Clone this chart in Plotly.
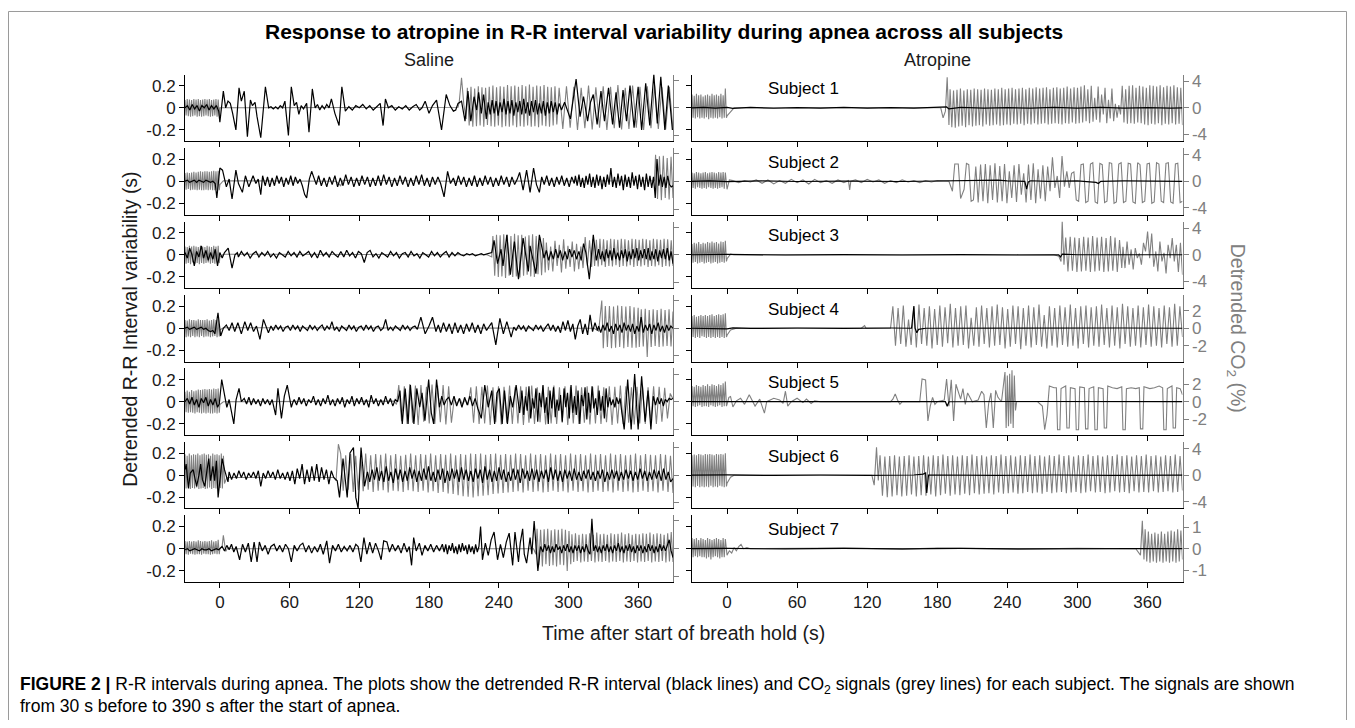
import numpy as np
import plotly.graph_objects as go

# ---------------- data (time in s, R-R in s, CO2 in %) ----------------
# segments: tuple (t0, t1, values) = values evenly spaced from t0 to t1; list = [[t, v], ...]
x_ticks = [0, 60, 120, 180, 240, 300, 360]
x_labels = ["0", "60", "120", "180", "240", "300", "360"]
rr_ticks = [-0.2, 0, 0.2]
rr_labels = ["-0.2", "0", "0.2"]
subjects = ["Subject 1", "Subject 2", "Subject 3", "Subject 4", "Subject 5", "Subject 6", "Subject 7"]
co2_ranges = [5.0, 5.0, 5.0, 3.8, 3.8, 5.0, 1.55]
co2_tick_steps = [4, 4, 4, 2, 2, 4, 1]

# ---- Saline ----
s1_sal_rr = [
    (-30, -1, [0.00, 0.02, -0.02, 0.03, -0.01, 0.02, -0.03, 0.02, 0.00, 0.03, -0.02, 0.02, -0.01, 0.02, -0.03]),
    [[0, -0.13], [3, 0.15], [5, 0.0], [7, 0.06], [9, 0.04], [11, -0.05], [13.8, -0.2], [16.5, 0.18], [18.5, 0.06], [21, 0.15],
     [23.7, -0.26], [26.3, 0.07], [28, 0.02], [30.3, 0.05], [32, -0.08], [35.2, -0.27], [39.2, 0.19], [42, 0.0], [44, 0.01],
     [46, -0.01], [48, 0.01], [50, -0.01], [52, 0.02], [54, 0.0], [56, 0.06], [59, -0.25], [61.5, 0.19], [64, 0.02], [66, 0.05],
     [68, -0.06], [70, 0.02], [72, -0.01], [74.7, 0.04], [76.7, -0.22], [79.6, 0.17], [82, 0.0], [84, 0.03], [86, -0.02],
     [88, 0.02], [90, -0.01], [92, 0.03], [94, 0.0], [96, 0.08], [99, -0.05], [102.6, -0.16], [105, 0.19], [108, -0.03],
     [111, 0.01], [114, -0.02], [117, 0.02], [120, 0.0], [123, 0.03], [126, -0.01], [129, 0.02], [132, -0.02], [135, 0.01],
     [138, 0.04], [140.5, -0.16], [142.5, 0.08], [145, 0.0], [148, 0.02], [151, -0.02], [154, 0.01], [157, -0.01], [160, 0.02],
     [163, -0.02], [166, 0.01], [169, 0.03], [172, -0.02], [174, 0.0], [176.7, 0.06], [180, -0.05], [183, 0.02], [186.5, 0.07],
     [190.8, -0.2], [194.8, 0.12], [198, 0.02], [201, -0.03], [203, -0.02], [205, 0.04], [208, 0.06], [211, -0.12],
     [213.5, 0.15], [216, -0.12], [218.8, 0.1], [221, -0.02], [222.7, 0.14], [225, -0.05], [227, 0.12], [229.3, -0.1]],
    (231, 292, [0.05, -0.06, 0.07, -0.05, 0.06, -0.07, 0.05, -0.04, 0.08, -0.06, 0.06, -0.05, 0.07, -0.07, 0.05, -0.04, 0.06,
                -0.06, 0.08, -0.05, 0.05, -0.07, 0.06, -0.04, 0.07, -0.06, 0.04, -0.05, 0.06, -0.07, 0.05, -0.05, 0.06, -0.04,
                0.05, -0.06, 0.04]),
    [[294, -0.02], [296.7, 0.05], [301.7, -0.1], [306.6, 0.26], [310, -0.08], [313, 0.1], [316.5, -0.12], [319, 0.05],
     [321.4, 0.12], [324.7, -0.15], [328, 0.15], [331, -0.12], [334.5, 0.18], [338, -0.15], [341, 0.14], [344, -0.18],
     [347, 0.16], [350, -0.12], [353, 0.2], [356.5, -0.18], [360, 0.19], [363, -0.2], [366.5, 0.22], [370, -0.16],
     [373.5, 0.3], [376.5, -0.14], [379.5, 0.28], [383, -0.2], [386, 0.2], [389.5, -0.2]],
]
s1_sal_co2 = [
    (-30, -0.5, [1.4, -1.4, 1.6, -1.5, 1.5, -1.6, 1.4, -1.5, 1.6, -1.4, 1.5, -1.6, 1.6, -1.5, 1.4, -1.6, 1.5, -1.5, 1.6, -1.4,
                 1.5, -1.5, 1.6, -1.6, 1.4, -1.5, 1.5, -1.4, 1.6, -1.6, 1.5, -1.5]),
    [[0, 0.0], [205, 0.1], [206, 1.0], [208, 5.4], [210, 0.5], [212, -2.0]],
    (213, 290, [3.6, -3.2, 3.8, -3.4, 3.5, -3.3, 3.9, -3.2, 3.7, -3.4, 3.6, -3.1, 3.8, -3.3, 4.0, -3.4, 3.7, -3.2, 3.9, -3.5,
                3.8, -3.3, 4.1, -3.4, 3.9, -3.2, 4.0, -3.5, 3.8, -3.3, 4.1, -3.4, 3.9, -3.2, 4.2, -3.4, 3.8, -3.3, 4.0, -3.5,
                3.9, -3.2, 4.1, -3.3, 3.8, -3.4, 3.7, -3.2, 3.9, -3.0]),
    (292, 390, [3.6, -3.8, 3.9, -3.6, 3.8, -4.0, 3.6, -3.7, 4.0, -3.9, 3.7, -3.6, 3.9, -4.0, 3.8, -3.7, 4.1, -3.9, 3.6, -3.8,
                4.0, -3.6, 3.8, -4.0, 3.9, -3.7, 4.0, -3.8, 3.7, -3.9, 3.8, -4.0]),
]

s2_sal_rr = [
    (-30, -4, [0.0, 0.01, -0.01, 0.0, 0.01, -0.01, 0.01, 0.0, -0.01, 0.01, 0.0, -0.01, 0.0, -0.02]),
    [[-2.6, -0.15], [0, 0.12], [2.3, 0.1], [5.6, -0.05], [8, 0.02], [10.5, -0.16], [13.8, 0.1], [16, -0.02], [19.4, -0.1],
     [22, 0.05], [25, -0.05], [28.6, 0.05], [31, -0.02], [33, 0.02], [35.2, -0.12], [36.8, 0.05], [39, -0.04], [41, 0.04],
     [43, -0.05], [45, 0.03], [47, -0.04], [49, 0.05], [51, -0.02], [53, 0.04], [55, -0.05], [57, 0.03], [59, -0.03],
     [61, 0.05], [63, -0.04], [65, 0.04], [67, -0.02], [69, 0.02], [71, -0.04], [73, -0.12], [74.7, -0.15], [77, 0.02],
     [79, 0.09], [81, 0.02], [83, -0.03]],
    (85, 190, [0.05, -0.04, 0.03, -0.05, 0.04, -0.03, 0.05, -0.05, 0.03, -0.04, 0.06, -0.03, 0.04, -0.05, 0.03, -0.04, 0.05,
               -0.03, 0.04, -0.05, 0.03, -0.04, 0.05, -0.04, 0.06, -0.03, 0.04, -0.05, 0.03, -0.04, 0.05, -0.03, 0.04, -0.05,
               0.03, -0.04, 0.05, -0.03, 0.06, -0.04, 0.03, -0.05, 0.04, -0.03, 0.04, -0.02]),
    [[193, -0.14], [196, 0.09], [198.5, -0.02], [201, 0.03]],
    (203, 256, [-0.04, 0.05, -0.03, 0.04, -0.05, 0.03, -0.04, 0.05, -0.05, 0.03, -0.04, 0.05, -0.03, 0.04, -0.05, 0.03, -0.04,
                0.05, -0.03, 0.04, -0.05, 0.04, -0.03, 0.02]),
    [[258, 0.08], [261, -0.08], [264, 0.1], [267, -0.1], [270, 0.12], [272.5, -0.03], [275, -0.1]],
    (277, 305, [0.04, -0.03, 0.05, -0.04, 0.03, -0.05, 0.04, -0.03, 0.05, -0.04, 0.03, -0.05, 0.04, -0.02]),
    (306, 390, [0.05, -0.04, 0.06, -0.05, 0.03, -0.06, 0.05, -0.03, 0.07, -0.05, 0.04, -0.06, 0.06, -0.04, 0.05, -0.07, 0.04,
                -0.05, 0.06, -0.03, 0.12, -0.05, 0.04, -0.06, 0.07, -0.04, 0.05, -0.08, 0.06, -0.05, 0.04, -0.06, 0.08, -0.04,
                0.05, -0.07, 0.06, -0.05, 0.04, -0.08, 0.07, -0.05, 0.05, -0.06, 0.04, -0.15, 0.2, -0.04, 0.06, -0.05, 0.04,
                -0.06, 0.05, -0.03, -0.05, -0.04]),
]
s2_sal_co2 = [
    (-30, -0.5, [1.5, -1.5, 1.6, -1.4, 1.5, -1.6, 1.6, -1.5, 1.7, -1.5, 1.6, -1.6, 1.7, -1.5, 1.8, -1.6, 1.7, -1.6, 1.8, -1.5,
                 1.8, -1.6, 1.7, -1.5, 1.8, -1.6, 1.9, -1.6, 1.8, -1.5, 1.9, -1.6]),
    [[0, -0.6], [3, 0.1], [100, 0.0], [104, -0.8], [106, 0.2], [200, 0.0], [374, 0.1]],
    (375, 390, [4.8, -3.2, 4.5, -3.4, 4.6, -3.0, 4.2, -3.3, 4.4, -3.0]),
]

s3_sal_rr = [
    [[-30, 0.02], [-28, -0.03], [-26, 0.06], [-24, 0.0], [-22, -0.1], [-20, 0.03], [-18, -0.02], [-16, 0.08], [-14, -0.03],
     [-12, 0.04], [-10, -0.05], [-8, 0.02], [-6, -0.04], [-4, 0.05], [-2, -0.1], [0, 0.02], [2, -0.03], [4, 0.02],
     [7.2, 0.06], [10.5, -0.12], [13, 0.0], [15, 0.02]],
    (16, 225, [-0.02, 0.03, -0.01, 0.02, -0.03, 0.01, 0.03, -0.02, 0.02, -0.01, 0.03, -0.02, 0.01, -0.03, 0.02, 0.0, -0.02,
               0.03, -0.01, 0.02, -0.02, 0.03, -0.01, 0.01, 0.03, -0.02, 0.02, -0.03, 0.04, -0.01, 0.02, -0.02, 0.03, 0.0,
               -0.02, 0.03, -0.02, 0.04, -0.01, 0.02, -0.03, 0.03, 0.01, -0.07, 0.02, 0.04, -0.02, 0.01, -0.03, 0.02, 0.0,
               -0.02, 0.03, -0.01, 0.02, -0.03, 0.01, 0.02, -0.02, 0.03, -0.01, 0.01, -0.03, 0.02, 0.0, -0.02, 0.03, -0.01,
               0.02, -0.02, 0.01, 0.03, -0.02, 0.02, -0.01, 0.02, 0.0, -0.01, 0.01, 0.0, 0.01, -0.01, 0.0, 0.01]),
    [[227, 0.0], [231, 0.01], [234, 0.02], [236, 0.13], [239, -0.08], [242, 0.05], [243.7, -0.1], [247, 0.18], [250, -0.18],
     [253.5, 0.12], [257, -0.22], [261, 0.15], [265.5, -0.15], [267, 0.08], [272, -0.17], [275, 0.18], [279, -0.03],
     [281, 0.04], [283, -0.05], [285, 0.03], [287, -0.04], [289, 0.05], [291, -0.03], [293, 0.04], [295, -0.05], [297, 0.03],
     [299, -0.04], [301, 0.05], [303, -0.02], [305, 0.04], [307, -0.04], [309, 0.03], [311, -0.05], [313, 0.1], [315, 0.02],
     [318, -0.22], [321.4, 0.18], [324, -0.05]],
    (326, 390, [0.05, -0.04, 0.03, -0.06, 0.05, -0.03, 0.04, -0.05, 0.06, -0.04, 0.02, -0.05, 0.04, -0.03, 0.05, -0.06, 0.03,
                -0.04, 0.05, -0.03, 0.06, -0.05, 0.04, -0.03, 0.05, -0.04, 0.06, -0.05, 0.03, -0.04, 0.05, -0.06, 0.04, -0.03,
                0.05, -0.04, 0.06, -0.05, 0.03, -0.08]),
]
s3_sal_co2 = [
    (-30, -0.5, [1.5, -1.6, 1.4, -1.5, 1.6, -1.7, 1.5, -1.4, 1.6, -1.6, 1.5, -1.5, 1.4, -1.7, 1.6, -1.5, 1.5, -1.6, 1.4, -1.5,
                 1.6, -1.4, 1.5, -1.6, 1.4, -1.5, 1.6, -1.6, 1.5, -1.4, 1.6, -1.5]),
    [[0, -0.4], [3, 0.1], [230, 0.0], [234, -0.4]],
    (235, 280, [3.4, -3.8, 3.6, -4.0, 3.5, -3.9, 3.7, -4.2, 3.6, -3.8, 3.4, -4.0, 3.8, -3.9, 3.5, -4.1, 3.6, -3.8, 3.3, -3.6,
                3.5, -3.9, 3.7, -4.0, 3.4, -3.5, 3.2, -3.7, 3.0, -3.2]),
    (281, 320, [2.2, -2.8, 1.5, -3.0, 2.5, -2.0, 1.8, -3.2, 2.8, -2.5, 1.6, -2.2, 2.4, -3.0, 2.0, -2.6, 1.5, -2.4, 3.2, -2.0, 2.6, -2.2]),
    (321, 390, [2.8, -2.0, 2.7, -2.1, 2.9, -1.9, 2.8, -2.2, 2.6, -2.0, 2.9, -2.1, 2.8, -1.9, 2.7, -2.2, 2.9, -2.0, 2.8, -2.1,
                2.6, -1.9, 2.9, -2.2, 2.8, -2.0, 2.7, -2.1, 2.9, -1.9, 2.8, -2.2, 2.6, -2.0, 2.9, -2.1, 2.8, -1.9, 2.7, -2.2,
                2.9, -2.0, 2.8, -2.1, 2.6, -2.0]),
]

s4_sal_rr = [
    (-30, -6, [0.0, 0.01, -0.01, 0.0, 0.01, -0.01, 0.0, 0.01, -0.01, 0.0, -0.02, -0.03, -0.02]),
    [[-4.3, -0.05], [-1.6, 0.14], [0.7, -0.07], [3, 0.0], [5.6, 0.03], [8, -0.02], [10.5, 0.05], [12.8, -0.03], [15.5, 0.05],
     [18.5, -0.05], [21.5, 0.06], [24, -0.02], [26.5, 0.05], [29, -0.03], [31.5, 0.02], [34.5, -0.1], [37.5, 0.08],
     [41.8, -0.04], [44, 0.02]],
    (46, 170, [-0.02, 0.03, -0.01, 0.02, -0.03, 0.01, 0.02, -0.02, 0.03, -0.01, 0.02, -0.03, 0.02, 0.0, -0.02, 0.03, -0.01,
               0.02, -0.02, 0.01, 0.03, -0.02, 0.02, -0.01, 0.06, -0.02, 0.01, -0.03, 0.02, 0.0, -0.02, 0.03, -0.01, 0.02,
               -0.03, 0.01, 0.02, -0.02, 0.03, -0.01, 0.02, -0.03, 0.01, 0.02, -0.02, 0.0, 0.08, -0.02, 0.01, -0.02, 0.02, 0.0,
               -0.02, 0.03, -0.01, 0.02, -0.02, 0.01, 0.02, -0.01]),
    [[173, 0.1], [176.7, -0.05], [180, 0.02], [183, 0.1], [186, -0.03], [188, 0.03]],
    (190, 232, [-0.04, 0.05, -0.03, 0.04, -0.05, 0.05, -0.04, 0.03, -0.05, 0.04, -0.03, 0.05, -0.04, 0.03, -0.05, 0.04, -0.02, 0.02]),
    [[234, 0.05], [237.5, -0.15], [241, 0.09], [244, -0.05], [247, 0.06], [250.7, -0.08], [253, 0.01]],
    (255, 325, [-0.02, 0.03, -0.01, 0.02, -0.03, 0.02, 0.0, -0.02, 0.03, -0.01, 0.02, -0.03, 0.01, 0.04, -0.02, 0.03, -0.03,
                0.02, -0.04, 0.06, -0.02, 0.07, -0.03, 0.04, -0.1, 0.02, 0.08, -0.05, 0.04, -0.06, 0.12, -0.03, 0.05, -0.02]),
    (326, 390, [0.02, -0.04, 0.03, -0.02, 0.05, -0.03, 0.02, -0.05, 0.04, -0.02, 0.03, -0.04, 0.05, -0.02, 0.03, -0.03, 0.04,
                -0.05, 0.02, -0.03, 0.1, -0.04, 0.03, -0.02, 0.04, -0.05, 0.03, -0.02, 0.05, -0.03, 0.02, -0.04, 0.03, -0.02,
                0.02, 0.0]),
]
s4_sal_co2 = [
    (-30, -0.5, [1.5, -1.6, 1.4, -1.5, 1.6, -1.6, 1.5, -1.4, 1.5, -1.6, 1.4, -1.5, 1.6, -1.6, 1.5, -1.4, 1.5, -1.6, 1.5, -1.5,
                 1.6, -1.5, 1.4, -1.6, 1.5, -1.5, 1.6, -1.4, 1.5, -1.6, 1.6, -1.5]),
    [[0, -0.3], [3, 0.1], [322, 0.0], [326, -0.5], [328.7, 5.0]],
    (330, 360, [-3.6, 4.0, -3.4, 4.0, -3.6, 3.9, -3.5, 4.1, -3.4, 4.0, -3.6, 3.9, -3.4, 4.0, -3.5, 3.8, -3.5, 3.7]),
    (361, 390, [-3.4, 3.4, -3.3, 3.5, -5.2, 3.3, -3.4, 3.4, -3.2, 3.3, -3.4, 3.5, -3.3, 3.3, -3.2, 3.4, -3.3, 3.0]),
]

s5_sal_rr = [
    [[-30, 0.0], [-28, 0.03], [-26, -0.02], [-24, 0.04], [-22, -0.03], [-20, 0.02], [-18, -0.05], [-16, 0.03], [-14, -0.01],
     [-12, 0.04], [-10, -0.04], [-8, 0.02], [-6, -0.03], [-4, 0.03], [-2, -0.05], [-0.5, -0.02], [1.6, 0.2], [4, 0.05],
     [6, -0.05], [8, 0.02], [10.5, -0.12], [12, -0.2], [14, 0.02], [16.5, 0.12], [18.5, 0.0], [21, 0.03], [23, -0.02],
     [25, 0.04], [27, -0.03], [29, 0.03], [31, -0.02], [33, 0.02], [35, -0.04], [37, 0.03], [39, -0.02], [41, 0.02],
     [43, -0.03], [45, 0.02], [48, -0.12], [50, 0.12], [53, -0.15], [55.5, 0.05], [58, 0.15], [61.5, -0.05], [63, 0.0]],
    (64, 153, [0.02, -0.03, 0.04, -0.02, 0.03, -0.04, 0.02, -0.01, 0.05, -0.03, 0.02, -0.04, 0.03, -0.02, 0.06, -0.03, 0.02,
               -0.04, 0.03, -0.02, 0.04, -0.05, 0.02, -0.02, 0.05, -0.04, 0.03, -0.02, 0.04, -0.03, 0.02, -0.05, 0.06, -0.02,
               0.03, -0.04, 0.02, -0.03, 0.05, -0.02, 0.03, -0.04, 0.02, 0.0]),
    [[155, 0.1], [157, -0.2], [159.5, 0.12], [162, -0.2], [164, 0.15], [167, -0.2], [169.5, 0.12], [172, -0.05], [174, 0.08],
     [176.5, -0.17], [179.7, 0.2], [182, -0.1], [184, -0.2], [186.5, 0.2], [189, -0.05], [191, 0.05], [193, -0.03], [195, 0.02]],
    (197, 222, [0.04, -0.03, 0.05, -0.04, 0.03, -0.05, 0.04, -0.03, 0.05, -0.04, 0.03, -0.06]),
    [[225, -0.15], [228, 0.15], [231, -0.05], [234, 0.1], [236.5, -0.2], [238.5, 0.08], [240.5, 0.12], [243, -0.2], [245, 0.1],
     [247.5, -0.2], [250, 0.05], [252, -0.05], [255, 0.15], [258, -0.1]],
    (260, 346, [0.1, -0.12, 0.05, -0.08, 0.14, -0.15, 0.03, -0.06, 0.12, -0.18, 0.08, -0.05, 0.15, -0.1, 0.04, -0.2, 0.1,
                -0.06, 0.13, -0.14, 0.02, -0.08, 0.06, -0.18, 0.12, -0.05, 0.08, -0.15, 0.15, -0.1, 0.05, -0.12, 0.1, -0.2,
                0.06, -0.04, 0.13, -0.16, 0.08, -0.1, 0.14, -0.06, 0.03, -0.12, 0.1, -0.08, 0.05, -0.15, 0.12, -0.05, 0.04,
                -0.03, 0.02, -0.05, 0.04, -0.02, 0.03, -0.1]),
    [[348, -0.25], [351, 0.2], [354, -0.25], [357, 0.25], [360, -0.25], [363, 0.23], [366, -0.18], [368.5, 0.1], [371, -0.25],
     [373, 0.05]],
    (375, 390, [-0.03, 0.04, -0.02, 0.03, -0.04, 0.02, 0.0, 0.03, 0.02, 0.03]),
]
s5_sal_co2 = [
    (-30, -0.5, [1.8, -1.9, 2.0, -2.0, 1.8, -1.9, 2.1, -2.0, 1.9, -2.1, 2.0, -1.9, 2.2, -2.0, 2.1, -2.1, 2.2, -2.0, 2.3, -2.1,
                 2.2, -2.0, 2.3, -2.1, 2.2, -2.1, 2.4, -2.0, 2.3, -2.1, 2.4, -2.0]),
    [[0, -0.5], [3, 0.0], [150, 0.1], [152, -0.5]],
    (154, 390, [3.0, -3.5, 2.8, -4.0, 3.2, -3.8, 2.9, -4.2, 3.0, -3.6, 2.7, -3.9, 3.1, -4.0, 2.9, -3.7, 3.0, -4.1, 2.8, -3.8,
                0.5, -0.4, 0.6, -0.5, 0.4, -0.6, 2.6, -3.8, 2.8, -4.0, 2.7, -3.9, 2.9, -4.2, 2.6, -3.7, 2.8, -4.1, 2.7, -3.8,
                2.9, -4.0, 2.6, -3.9, 2.8, -4.2, 2.7, -3.8, 2.9, -4.0, 2.6, -3.7, 2.8, -4.1, 2.7, -3.9, 2.9, -4.0, 2.6, -3.8,
                2.8, -4.2, 2.7, -3.9, 2.9, -4.0, 2.6, -3.8, 2.8, -4.1, 2.7, -3.9, 2.9, -4.0, 2.6, -3.7, 2.8, -4.2, 2.7, -3.9,
                2.9, -4.0, 2.8, -3.8, 2.6, -4.1, 2.7, -3.9, 2.9, -4.0, 2.6, -3.8, 2.8, -4.0, 2.7, -3.6, 2.5, -3.0, 1.5, 0.5]),
]

s6_sal_rr = [
    [[-30, 0.05], [-29, 0.1], [-27, -0.12], [-25.5, 0.02], [-23, 0.05], [-20, -0.1], [-18, 0.0], [-16.5, 0.1], [-15, -0.04],
     [-13, -0.1], [-11, 0.05], [-9.5, 0.15], [-8, -0.05], [-6, 0.08], [-4.5, -0.05], [-3, 0.13], [-1.5, -0.2], [0.5, 0.02],
     [2, 0.15], [4, 0.05], [5.6, 0.0], [7, -0.06]],
    (8, 98, [0.03, -0.04, 0.02, -0.03, 0.04, -0.02, 0.03, -0.04, 0.02, -0.02, 0.03, -0.03, 0.04, -0.1, 0.02, -0.03, 0.04,
             -0.02, 0.03, -0.04, 0.05, -0.03, 0.02, -0.04, 0.03, -0.05, 0.04, -0.08, 0.06, -0.03, 0.1, -0.08, 0.05, -0.06,
             0.08, -0.05, 0.1, -0.06, 0.07, -0.04, 0.05, -0.08, 0.04, -0.02]),
    [[101, -0.05], [103, -0.2], [106, 0.15], [109.6, -0.2], [112, 0.2], [115, 0.25], [117, -0.2], [119, -0.3], [121.5, 0.25],
     [124.5, -0.1], [127, 0.03]],
    (129, 390, [-0.06, 0.05, -0.04, 0.07, -0.05, 0.04, -0.06, 0.08, -0.05, 0.03, -0.07, 0.06, -0.04, 0.05, -0.06, 0.04, -0.05,
                0.07, -0.03, 0.05, -0.06, 0.04, -0.05, 0.06, -0.04, 0.08, -0.05, 0.03, -0.06, 0.05, -0.04, 0.06, -0.07, 0.04,
                -0.05, 0.06, -0.03, 0.05, -0.06, 0.07, -0.04, 0.05, -0.05, 0.04, -0.06, 0.06, -0.03, 0.05, -0.07, 0.08, -0.04,
                0.05, -0.06, 0.04, -0.05, 0.07, -0.04, 0.05, -0.06, 0.03, -0.05, 0.06, -0.04, 0.05, -0.07, 0.06, -0.03, 0.04,
                -0.05, 0.06, -0.04, 0.05, -0.06, 0.04, -0.03, 0.05, -0.06, 0.07, -0.04, 0.05, -0.05, 0.04, -0.06, 0.05, -0.03,
                0.04, -0.05, 0.06, -0.04, 0.03, -0.05, 0.04, -0.03, 0.05, -0.04, 0.03, -0.05, 0.04, -0.03, 0.05, -0.06, 0.03,
                -0.04, 0.05, -0.03, 0.04, -0.05, 0.03, -0.04, 0.05, -0.03, 0.04, -0.05, 0.03, -0.04, 0.06, -0.03, 0.04, -0.05,
                0.03, -0.04, 0.05, -0.03, 0.04, -0.05, 0.06, -0.04, 0.03, -0.06, -0.03]),
]
s6_sal_co2 = [
    (-30, 4, [3.8, -2.4, 3.5, -2.2, 3.9, -2.5, 3.6, -2.3, 3.8, -2.4, 3.7, -2.2, 3.9, -2.5, 3.6, -2.4, 3.8, -2.3, 3.9, -2.5,
              3.7, -2.4, 3.8, -2.2, 3.5, -2.5, 3.9, -2.3, 3.7, -2.4, 3.8, -2.5, 3.6, -2.3, 3.9, -2.4, 3.5, -1.5]),
    [[6, -0.4], [98, -0.4], [100, -1.0], [102, 5.6]],
    (104, 390, [3.9, -2.8, 3.6, -2.6, 3.8, -3.0, 3.5, -2.7, 3.7, -2.9, 3.9, -2.6, 3.6, -3.0, 3.8, -2.8, 3.7, -2.7, 3.9, -3.1,
                3.6, -2.8, 3.8, -2.9, 3.5, -3.0, 3.7, -2.7, 3.9, -2.9, 3.6, -3.0, 3.8, -2.8, 3.7, -3.1, 3.9, -2.9, 3.6, -3.2,
                3.8, -3.0, 3.7, -3.3, 3.9, -3.4, 3.6, -3.6, 3.8, -3.8, 3.7, -3.9,
                3.9, -4.0, 3.8, -3.8, 3.9, -3.7, 3.7, -3.6, 3.8, -3.4, 3.9, -3.3, 3.7, -3.2, 3.8, -3.1,
                3.7, -3.0, 3.9, -2.9, 3.8, -3.1, 3.6, -2.8, 3.9, -3.0, 3.7, -2.9, 3.8, -3.1, 3.6, -3.0, 3.9, -2.8, 3.7, -3.0,
                3.8, -2.9, 3.6, -3.1, 3.9, -2.8, 3.7, -3.0, 3.8, -2.9, 3.6, -3.1, 3.9, -3.0, 3.7, -2.8, 3.8, -3.0, 3.6, -2.9,
                3.9, -3.1, 3.7, -2.8, 3.8, -3.0, 3.6, -2.9, 3.7, -3.1, 3.9, -3.0, 3.6, -2.8, 3.8, -3.0, 3.7, -2.9, 3.6, -3.1,
                3.8, -2.8, 3.7, -3.0, 3.5, -3.2]),
]

s7_sal_rr = [
    (-30, -1, [-0.01, 0.0, -0.02, -0.01, 0.0, -0.01, -0.02, 0.0, -0.01, -0.01, 0.0, -0.02, -0.01, 0.0, -0.01]),
    [[0, 0.0], [2, 0.02], [4, -0.02], [6, 0.03], [8, -0.01], [10, 0.04], [12, -0.03], [14, 0.02], [17, -0.1], [19.5, 0.04],
     [22, -0.03], [24.5, 0.05], [27, -0.12], [29.5, 0.06], [32, -0.12], [34, 0.06], [36.5, -0.02], [39, 0.03], [41.5, -0.05],
     [44, 0.02], [46.7, 0.04], [49, -0.02], [51.5, 0.03], [54, -0.03], [56.5, 0.04], [59, 0.0], [61.5, -0.12], [64, 0.03],
     [66.5, -0.02], [69, 0.03], [71.4, 0.05], [74, -0.03], [76.5, 0.03], [79, -0.04], [81.5, 0.02], [84, -0.03], [86.5, 0.04],
     [89, -0.05], [92, 0.07], [94.4, -0.13], [97, 0.03], [99.5, -0.02], [102, 0.04], [104.5, -0.03], [107, 0.02],
     [109.5, -0.02], [112, 0.03], [114.5, -0.03], [117, 0.04], [119, 0.02], [121.4, -0.12], [124, 0.1], [126.5, -0.05],
     [129, 0.06], [131.5, -0.04], [134, 0.05], [136.5, -0.02], [138.8, -0.1], [141, 0.07], [143.8, 0.06], [146, -0.03],
     [148.5, 0.04], [151, -0.02], [153.5, 0.03], [156, -0.04], [158.5, 0.05], [161, -0.03], [163, 0.02], [165, -0.15],
     [166.8, 0.1], [169, -0.02], [171.7, 0.05], [174, -0.06], [176.5, 0.03], [179, -0.02], [181.5, 0.04], [184, -0.03],
     [186.5, 0.03], [189, -0.02], [191.5, 0.04]],
    (193, 223, [-0.03, 0.04, -0.05, 0.03, -0.02, 0.05, -0.04, 0.02, -0.05, 0.04, -0.03, 0.05, -0.02, 0.03, -0.05, 0.04, -0.03,
                0.02, -0.05, 0.04, -0.03, 0.02]),
    [[224.4, 0.2], [226, -0.1], [228.5, 0.05], [231, -0.06], [233.5, 0.08], [236, 0.15], [239, -0.1], [241.5, 0.04],
     [244, -0.08], [246.5, 0.06], [249, 0.14], [252, -0.15], [254, 0.15], [257, -0.12], [258.5, 0.05], [260.6, 0.18],
     [262, -0.05], [264, -0.13], [267, 0.1], [268.5, -0.05], [270.5, 0.25], [272, 0.0], [273.7, -0.2], [276, 0.02]],
    (278, 390, [-0.03, 0.04, -0.02, 0.03, -0.04, 0.02, -0.03, 0.04, -0.01, 0.02, -0.04, 0.03, -0.02, 0.04, -0.03, 0.02, -0.04,
                0.03, -0.02, 0.03, -0.04, 0.02, -0.03, 0.04, -0.02, -0.05, 0.27, -0.02, 0.03, -0.03, 0.02, -0.04, 0.03, -0.02,
                0.04, -0.03, 0.02, -0.04, 0.03, -0.02, 0.05, -0.03, 0.02, -0.04, 0.03, -0.02, 0.04, -0.03, 0.02, -0.04, 0.03,
                -0.02, 0.03, -0.04, 0.02, -0.03, 0.04, -0.02, 0.03, -0.04, 0.02, -0.03, 0.04, -0.02, 0.03, -0.02, 0.04, 0.08,
                -0.02, -0.08]),
]
s7_sal_co2 = [
    (-30, -0.5, [1.4, -1.0, 1.3, -1.1, 1.4, -0.9, 1.3, -1.0, 1.4, -1.1, 1.3, -1.0, 1.5, -1.0, 1.4, -1.1, 1.3, -0.9, 1.4, -1.0,
                 1.3, -1.0, 1.4, -1.1, 1.5, -1.0, 1.3, -0.9, 1.4, -1.0, 1.6, -1.0]),
    [[0, 0.0], [2, 0.5], [3, 2.4], [5, -0.5], [7, 0.2], [10, 0.0], [270, 0.0], [272, -1.0]],
    (273, 302, [3.6, -3.0, 3.4, -3.2, 3.5, -2.8, 3.6, -3.1, 3.3, -3.0, 3.5, -3.2, 3.4, -2.9, 3.6, -3.0, 3.4, -4.0, 3.2, -2.8]),
    (303, 390, [2.6, -2.4, 2.8, -2.2, 2.5, -2.5, 2.7, -2.3, 2.6, -2.4, 2.8, -2.2, 2.5, -2.5, 2.9, -2.3, 2.6, -2.4, 2.7, -2.2,
                2.5, -2.5, 2.8, -2.3, 2.6, -2.4, 2.7, -2.2, 2.9, -2.5, 2.6, -2.3, 2.8, -2.4, 2.5, -2.2, 2.7, -2.5, 2.6, -2.3,
                2.8, -2.4, 2.7, -2.2, 2.9, -2.5, 2.6, -2.3, 2.8, -2.4, 2.7, -2.2, 2.5, -2.5, 2.8, -2.3, 3.0, -2.4]),
]

# ---- Atropine ----
s1_atr_rr = [
    [[-30, 0.0], [-20, 0.004], [-10, -0.003], [0, 0.003], [5, -0.005], [20, 0.003], [40, -0.004], [60, 0.002], [80, -0.002],
     [100, 0.003], [120, -0.002], [140, 0.002], [160, -0.003], [180, 0.003], [188, 0.008], [190, -0.01], [200, 0.004],
     [220, -0.003], [240, 0.002], [260, -0.003], [280, 0.003], [300, -0.002], [320, 0.003], [340, -0.003], [360, 0.002],
     [380, -0.002], [390, 0.0]],
]
s1_atr_co2 = [
    (-30, -0.5, [2.0, -1.5, 1.8, -1.6, 2.1, -1.4, 1.9, -1.6, 2.0, -1.5, 1.7, -1.6, 1.9, -1.4, 2.0, -1.7, 1.8, -1.5, 2.1, -1.6,
                 1.9, -1.5, 2.0, -1.6, 1.8, -1.4, 2.1, -1.6, 1.9, -1.5, 2.9, -1.5]),
    [[0, -1.2], [3, -0.6], [6, 0.0], [183, 0.0], [185, -1.5], [187, -0.5], [188.5, 4.6], [190, -2.6]],
    (191, 390, [2.8, -2.9, 2.6, -3.0, 2.7, -2.8, 2.9, -2.7, 2.6, -2.9, 2.8, -2.6, 2.7, -2.8, 2.9, -2.7, 2.8, -2.6, 2.7, -2.8,
                2.9, -2.5, 2.8, -2.7, 2.7, -2.6, 2.9, -2.5, 2.8, -2.7, 3.0, -2.6, 2.8, -2.5, 2.9, -2.6, 3.0, -2.4, 2.8, -2.5,
                2.9, -2.4, 3.0, -2.6, 2.8, -2.4, 3.0, -2.5, 2.9, -2.3, 3.1, -2.5, 2.9, -2.4, 3.0, -2.3, 3.1, -2.5, 2.8, -2.4,
                3.0, -2.3, 3.1, -2.4, 2.9, -2.5, 3.0, -2.3, 3.2, -2.4, 2.9, -2.2, 3.1, -2.4, 3.0, -2.3, 3.2, -2.2,
                3.4, -2.0, 2.8, -2.3, 3.3, -2.1, 1.5, -1.8, 3.2, -2.2, 2.0, -1.0, 3.0, -2.3, 1.2, -1.6, 2.9, -2.0, 0.6, -1.5,
                0.4, -1.0, 3.3, -2.2, 2.8, -2.4, 3.3, -2.3, 3.4, -2.4, 3.0, -2.2, 3.3, -2.3, 3.2, -2.5, 3.0, -2.6,
                3.4, -2.4, 3.3, -2.5, 3.2, -2.3, 3.4, -2.6, 3.1, -2.4, 3.3, -2.5, 3.2, -2.3, 3.4, -2.5, 3.1, -2.4, 3.0, -2.6]),
]

s2_atr_rr = [
    [[-30, 0.0], [-15, 0.003], [0, -0.003], [30, 0.003], [60, -0.002], [100, 0.002], [150, -0.002], [190, 0.003],
     [230, 0.006], [232, 0.01], [240, 0.003], [255, 0.0], [256.5, -0.07], [258, -0.005], [260, 0.005], [275, 0.0],
     [300, 0.003], [316, -0.01], [318, -0.02], [320, 0.0], [340, 0.003], [370, -0.002], [390, 0.0]],
]
s2_atr_co2 = [
    (-30, -0.5, [1.3, -1.0, 1.2, -1.1, 1.4, -0.9, 1.3, -1.0, 1.2, -1.1, 1.3, -1.0, 1.4, -1.1, 1.2, -0.9, 1.3, -1.0, 1.4, -1.1,
                 1.3, -1.0, 1.2, -1.1, 1.4, -1.0, 1.3, -0.9, 1.4, -1.1, 1.3, -1.0]),
    [[0, -1.2], [2, 0.2], [5, 0.1], [10, -0.2], [15, 0.1], [20, -0.1], [25, 0.2], [30, -0.3], [35, 0.2], [40, -0.4], [45, 0.1],
     [50, -0.3], [55, 0.3], [60, -0.2], [65, 0.2], [70, -0.4], [75, 0.3], [80, -0.2], [85, 0.1], [90, -0.3], [95, 0.2],
     [100, -0.2], [104, 0.1], [105, -1.3], [106, 0.0], [110, 0.2], [115, -0.2], [120, 0.3], [125, -0.1], [130, 0.2],
     [135, -0.3], [140, 0.1], [145, -0.2], [150, 0.2], [155, -0.1], [160, 0.1], [165, -0.2], [170, 0.1], [175, -0.1],
     [180, 0.1], [185, 0.0], [190, 0.0], [193, -1.5], [195, 2.6], [198, 2.6], [200, -2.6], [203, -1.2], [205, 2.7],
     [207, 2.5], [209, -3.0], [211, -2.8]],
    (213, 293, [2.2, -3.2, 2.5, -3.0, 2.6, -3.3, 2.4, -2.8, 2.7, -3.2, 2.3, -3.0, 2.6, -3.3, 1.5, -2.5, 2.4, -3.1, 2.6, -2.0,
                1.2, -3.2, 2.5, -2.8, 2.7, -3.3, 1.8, -2.6, 2.4, -3.0, 2.2, -1.5, 3.6, -1.0, 0.8, -2.5, 3.8, -0.8, 1.5, -1.0]),
    (295, 390, [1.2, 1.4, -2.8, -3.0, 2.5, 2.6, -3.2, -3.0, 2.6, 2.8, -3.1, -3.3, 2.7, 2.5, -3.2, -3.0, 2.8, 2.7, -3.3, -3.1,
                2.6, 2.8, -3.2, -3.0, 2.7, 2.6, -3.1, -3.3, 2.8, 2.5, -3.2, -3.0, 2.6, 2.7, -3.3, -3.1, 2.8, 2.6, -3.0, -3.2,
                2.7, 2.8, -3.1, -3.3, 2.6, 2.7, -3.2, -3.0]),
]

s3_atr_rr = [
    [[-30, 0.0], [0, 0.003], [50, -0.002], [100, 0.002], [150, -0.002], [200, 0.002], [250, -0.002], [284, 0.0],
     [285.5, -0.02], [287, 0.005], [300, 0.0], [340, 0.003], [390, 0.0]],
]
s3_atr_co2 = [
    (-30, -0.5, [1.6, -1.2, 1.8, -1.1, 1.7, -1.3, 1.9, -1.2, 1.6, -1.1, 1.8, -1.3, 1.7, -1.2, 1.9, -1.1, 1.8, -1.3, 2.0, -1.2,
                 1.8, -1.1, 1.9, -1.3, 1.7, -1.2, 2.0, -1.1, 1.9, -1.2, 2.1, -1.0]),
    [[0, -0.6], [3, 0.1], [6, 0.0], [280, 0.0], [284, -0.2], [286, -1.0], [287, 5.0], [288.5, -1.5]],
    (290, 338, [2.6, -2.5, 2.7, -2.4, 2.6, -2.6, 2.5, -2.5, 2.7, -2.4, 2.6, -2.6, 2.8, -2.5, 2.6, -2.4, 2.7, -2.6, 2.5, -2.5,
                2.8, -2.4, 2.6, -2.6, 2.2, -2.0]),
    (339, 390, [1.2, -2.0, 2.0, -1.5, 0.8, -2.2, 1.0, -0.5, 0.2, -1.5, 1.8, 0.5, 3.5, -0.5, 3.2, -1.8, 0.5, -2.5, 2.0, -1.0,
                0.3, -2.8, 1.5, -0.5, 2.5, -1.0, 1.5, -2.6, 1.8, -3.0]),
]

s4_atr_rr = [
    [[-30, 0.0], [-2, 0.0], [0, -0.005], [5, 0.003], [20, -0.002], [60, 0.002], [100, -0.002], [140, 0.002], [158, 0.0],
     [160, 0.2], [161, 0.0], [162.5, -0.04], [164, -0.01], [170, 0.0], [220, 0.002], [280, -0.002], [340, 0.002], [390, 0.0]],
]
s4_atr_co2 = [
    (-30, -0.5, [1.4, -1.0, 1.5, -1.1, 1.3, -1.0, 1.4, -1.1, 1.5, -0.9, 1.4, -1.0, 1.5, -1.1, 1.4, -1.0, 1.5, -1.1, 1.6, -1.0,
                 1.4, -1.1, 1.5, -1.0, 1.6, -1.1, 1.5, -1.0, 1.6, -1.1, 1.7, -1.0]),
    [[0, -0.8], [3, -0.2], [8, 0.0], [115, 0.0], [117.8, 0.3], [119, 0.0], [140, 0.0]],
    (142, 390, [2.5, -2.0, 2.3, -1.8, 2.6, -2.1, 1.0, -1.9, 2.4, -2.2, 2.7, -1.8, 2.3, -2.0, 2.5, -2.3, 2.2, -1.9, 2.6, -2.1,
                2.4, -1.7, 2.8, -2.2, 2.3, -2.0, 2.5, -1.9, 2.6, -2.3, 1.2, -2.0, 2.4, -2.1, 2.6, -1.8, 2.3, -2.2, 2.5, -2.0,
                2.7, -1.9, 2.4, -2.3, 2.2, -2.1, 2.6, -1.8, 2.5, -2.4, 2.3, -2.0, 2.6, -2.2, 2.4, -1.9, 2.7, -2.1, 1.5, -2.3,
                2.5, -2.0, 2.3, -2.2, 2.6, -1.9, 2.4, -2.1, 2.7, -2.0, 2.3, -2.3, 2.5, -1.8, 2.6, -2.2, 2.4, -2.0, 2.5, -2.1,
                2.7, -1.9, 2.3, -2.2, 2.6, -2.0, 2.4, -2.3, 2.8, -1.8, 2.5, -2.1, 2.3, -2.0, 2.6, -2.2, 2.4, -1.9, 2.7, -2.1,
                2.5, -2.0, 2.3, -2.2, 2.6, -1.8, 2.4, -2.1, 2.8, -2.0, 2.5, -1.0]),
]

s5_atr_rr = [
    [[-30, 0.0], [0, 0.0], [50, 0.002], [100, -0.002], [150, 0.002], [187, 0.0], [188.5, -0.04], [190, 0.0], [250, 0.002],
     [320, -0.002], [390, 0.0]],
]
s5_atr_co2 = [
    (-30, -0.5, [1.8, -0.5, 1.7, -0.6, 1.9, -0.5, 1.8, -0.4, 1.7, -0.6, 1.9, -0.5, 1.8, -0.5, 2.0, -0.6, 1.8, -0.4, 2.0, -0.5,
                 1.9, -0.6, 1.8, -0.5, 2.0, -0.4, 1.9, -0.6, 2.1, -0.5, 2.3, -0.5]),
    [[0, -0.3], [1.6, 0.5], [3, 0.6], [5, -0.6], [8, 0.1], [11.6, 0.4], [15, -0.3], [19, 0.8], [24, -0.5], [28, 0.3],
     [32, -1.3], [34, 0.0], [40, 0.4], [45, 0.2], [48, -0.2], [50, 1.2], [52, -0.5], [55, 0.0], [60, 0.4], [65, -0.1],
     [68, 0.3], [72, -0.2], [75, 0.1], [80, 0.0], [140, 0.0], [142, 0.3], [144, 0.9], [146, 0.2], [148, -0.3], [150, 0.0],
     [165, 0.0], [167, 2.6], [170, 2.5], [172, -2.2], [174, -0.5], [176, 0.5], [178, -0.3], [180, 0.0], [186, 0.2],
     [188, 2.6], [190, -0.5], [192, 2.5], [194, -2.2], [196, 2.0], [198, 1.2], [200, 0.3], [202, 1.5], [204, -0.3],
     [206, 1.0], [208, 0.5], [210, 0.0], [215, 0.2], [218, 1.2], [220, 0.8], [222, -3.0], [224, -0.2], [226, 1.0],
     [228, -3.0], [230, 1.3], [232, 0.5], [235, 0.0], [238, 3.4], [239, -3.0], [240, 3.0], [241, -2.8], [242, 3.2],
     [243, -2.5], [244, 3.6], [245, -3.0], [246, 3.0], [247, -1.0], [248, 0.0], [266, 0.0], [270, -0.5], [272, -3.2],
     [274, -1.5], [276, 1.8], [280, 1.6],
     [282, 1.6], [283, -3.2], [285, -3.2], [286, 1.5], [290, 1.8], [291, -3.0], [293, -3.0], [294, 1.6], [298, 1.5],
     [299, -3.2], [301, -3.2], [302, 1.7], [306, 1.6], [307, -3.1], [309, -3.1], [310, 1.5], [314, 1.7], [315, -3.2],
     [317, -3.2], [318, 1.6], [322, 1.5], [323, -3.0], [325, -3.0], [326, 1.8], [330, 1.6], [334, 1.5], [338, 1.7],
     [339, -3.2], [341, -3.2], [342, 1.5], [346, 1.6], [350, 1.5], [353, 1.6], [354, -3.1], [356, -3.1], [357, 1.7],
     [362, 1.5], [366, 1.6], [370, 1.8], [373, 1.6], [374, -3.2], [376, -3.2], [377, 1.5], [381, 1.8], [382, -3.0],
     [384, -3.0], [385, 1.6], [388, 1.5], [390, 0.8]],
]

s6_atr_rr = [
    [[-30, 0.0], [0, 0.003], [40, -0.002], [80, 0.002], [120, -0.002], [160, 0.002], [168, 0.01], [170, 0.02], [171, -0.16],
     [172.5, 0.0], [180, 0.002], [230, -0.002], [280, 0.002], [330, -0.002], [390, 0.0]],
]
s6_atr_co2 = [
    (-30, -0.5, [3.0, -1.7, 3.1, -1.8, 3.0, -1.6, 3.2, -1.8, 3.1, -1.7, 3.0, -1.8, 3.2, -1.7, 3.1, -1.8, 3.2, -1.6, 3.1, -1.8,
                 3.0, -1.7, 3.2, -1.8, 3.1, -1.6, 3.2, -1.7, 3.1, -1.8, 3.3, -1.7]),
    [[0, -1.2], [3, -0.3], [6, 0.0], [124, 0.0], [126, -1.5], [128, 4.2], [129.5, -0.8]],
    (131, 390, [3.0, -3.1, 2.8, -3.3, 2.9, -3.2, 3.0, -3.0, 2.8, -3.2, 2.9, -3.1, 3.0, -2.9, 2.8, -3.2, 2.9, -3.0, 3.0, -3.1,
                2.8, -2.9, 3.0, -3.2, 2.9, -3.0, 3.1, -2.8, 2.9, -3.1, 3.0, -2.9, 2.8, -3.0, 3.0, -2.8, 2.9, -3.0, 3.1, -2.7,
                2.9, -2.9, 3.0, -2.8, 2.8, -2.7, 3.0, -2.9, 2.9, -2.6, 3.1, -2.8, 2.9, -2.7, 3.0, -2.6, 2.8, -2.8, 3.0, -2.7,
                2.9, -2.5, 3.1, -2.7, 2.9, -2.6, 3.0, -2.8, 2.8, -2.5, 3.0, -2.7, 2.9, -2.6, 3.1, -2.5, 2.9, -2.7, 3.0, -2.6,
                2.8, -2.5, 3.0, -2.7, 2.9, -2.6, 3.1, -2.4, 2.9, -2.6, 3.0, -2.5, 2.8, -2.7, 3.0, -2.6, 2.9, -2.4, 3.1, -2.6,
                2.9, -2.5, 3.0, -2.7, 2.8, -2.4, 3.0, -2.6, 2.9, -2.5, 3.1, -2.6, 2.9, -2.4, 3.0, -2.6, 2.8, -2.5, 3.0, -2.4,
                2.9, -2.6, 3.1, -2.5, 2.9, -2.3]),
]

s7_atr_rr = [
    [[-30, 0.0], [0, 0.002], [50, -0.002], [100, 0.002], [150, -0.002], [200, 0.002], [250, -0.002], [300, 0.002],
     [350, 0.0], [390, 0.0]],
]
s7_atr_co2 = [
    (-30, -0.5, [0.5, -0.4, 0.45, -0.35, 0.5, -0.4, 0.4, -0.35, 0.5, -0.4, 0.45, -0.4, 0.4, -0.45, 0.5, -0.4, 0.45, -0.5,
                 0.4, -0.4, 0.45, -0.35, 0.5, -0.4, 0.45, -0.45, 0.4, -0.4, 0.5, -0.4, 0.45, -0.3]),
    [[0, -0.3], [2, -0.1], [4, -0.2], [6, 0.05], [8, -0.1], [10, 0.1], [12, 0.2], [14, 0.0], [17, 0.05], [20, 0.0],
     [100, 0.03], [150, -0.02], [180, 0.03], [250, -0.02], [300, 0.02], [350, 0.0], [352, -0.15], [354, -0.3], [355.6, 1.3],
     [357, -0.5]],
    (358, 390, [0.9, -0.6, 0.8, -0.65, 0.7, -0.6, 0.75, -0.65, 0.7, -0.6, 0.8, -0.65, 0.7, -0.6, 0.8, -0.65, 0.85, -0.6,
                0.8, -0.65, 0.9, -0.6, 0.85, -0.5]),
]

saline_rr = [s1_sal_rr, s2_sal_rr, s3_sal_rr, s4_sal_rr, s5_sal_rr, s6_sal_rr, s7_sal_rr]
saline_co2 = [s1_sal_co2, s2_sal_co2, s3_sal_co2, s4_sal_co2, s5_sal_co2, s6_sal_co2, s7_sal_co2]
atropine_rr = [s1_atr_rr, s2_atr_rr, s3_atr_rr, s4_atr_rr, s5_atr_rr, s6_atr_rr, s7_atr_rr]
atropine_co2 = [s1_atr_co2, s2_atr_co2, s3_atr_co2, s4_atr_co2, s5_atr_co2, s6_atr_co2, s7_atr_co2]


def build(segments):
    ts, vs = [], []
    for seg in segments:
        if isinstance(seg, tuple):
            t0, t1, vals = seg
            ts.extend(np.linspace(t0, t1, len(vals)).tolist())
            vs.extend(vals)
        else:
            for t, v in seg:
                ts.append(t)
                vs.append(v)
    return ts, vs


# ---------------- figure ----------------
# page has an 8px body margin: the figure sits at (8, 8) in the 1355x728 window
OFF = 8
W, H = 1355 - 2 * OFF, 728 - 2 * OFF


def fx(page_x):
    return (page_x - OFF) / W


def fy(page_y):
    return 1 - (page_y - OFF) / H


FONT = "Liberation Sans, Arial, Helvetica, sans-serif"
BLACK = "#000000"
GREY = "#808080"
TXT = "#1a1a1a"
TICK_SIZE = 17

col_px = [(185, 673), (692, 1182.5)]
row_zero0, row_pitch, half_h = 106.5, 74.0, 33.5

fig = go.Figure()
layout = dict(
    width=W, height=H, margin=dict(l=0, r=0, t=0, b=0),
    paper_bgcolor="white", plot_bgcolor="white", showlegend=False,
    font=dict(family=FONT, size=TICK_SIZE, color=TXT),
)

for r in range(7):
    zero = row_zero0 + row_pitch * r
    ydom = [fy(zero + half_h), fy(zero - half_h)]
    for c in range(2):
        k = r * 2 + c + 1
        ko = k + 14
        xn = "x" if k == 1 else f"x{k}"
        yb = "y" if k == 1 else f"y{k}"
        yo = f"y{ko}"
        xd = [fx(col_px[c][0]), fx(col_px[c][1])]

        if c == 0:
            co2_rng, co2_tv = 6.0, [-5, 0, 5]
            rr_segs, co2_segs = saline_rr[r], saline_co2[r]
        else:
            co2_rng = co2_ranges[r]
            s = co2_tick_steps[r]
            co2_tv = [-s, 0, s]
            rr_segs, co2_segs = atropine_rr[r], atropine_co2[r]

        layout["xaxis" if k == 1 else f"xaxis{k}"] = dict(
            domain=xd, anchor=yb, range=[-30, 390], tickvals=x_ticks, ticktext=x_labels,
            showticklabels=(r == 6), ticks="outside", ticklen=5, tickwidth=1, tickcolor=BLACK,
            showline=True, linecolor=BLACK, linewidth=1, showgrid=False, zeroline=False,
            tickfont=dict(size=TICK_SIZE, color=TXT, family=FONT), fixedrange=True,
        )
        # base axis: CO2 (grey, right side)
        layout["yaxis" if k == 1 else f"yaxis{k}"] = dict(
            domain=ydom, anchor=xn, side="right", range=[-co2_rng, co2_rng], tickvals=co2_tv,
            ticktext=[str(v) for v in co2_tv], showticklabels=(c == 1),
            ticks="outside", ticklen=5, tickwidth=1, tickcolor=GREY,
            showline=True, linecolor=GREY, linewidth=1, showgrid=False, zeroline=False,
            tickfont=dict(size=TICK_SIZE, color=GREY, family=FONT), fixedrange=True,
        )
        # overlay axis: R-R interval (black, left side)
        layout[f"yaxis{ko}"] = dict(
            overlaying=yb, anchor=xn, side="left", range=[-0.3, 0.3], tickvals=rr_ticks, ticktext=rr_labels,
            showticklabels=(c == 0), ticks="outside", ticklen=5, tickwidth=1, tickcolor=BLACK,
            showline=True, linecolor=BLACK, linewidth=1, showgrid=False, zeroline=False,
            tickfont=dict(size=TICK_SIZE, color=TXT, family=FONT), fixedrange=True,
        )

        tg, vg = build(co2_segs)
        fig.add_trace(go.Scatter(x=tg, y=vg, xaxis=xn, yaxis=yb, mode="lines",
                                 line=dict(color=GREY, width=1.1), hoverinfo="skip"))
        tb, vb = build(rr_segs)
        fig.add_trace(go.Scatter(x=tb, y=vb, xaxis=xn, yaxis=yo, mode="lines",
                                 line=dict(color=BLACK, width=1.2), hoverinfo="skip"))

annotations = [
    dict(text="<b>Response to atropine in R-R interval variability during apnea across all subjects</b>",
         x=fx(664), y=fy(30), font=dict(size=21, color=BLACK)),
    dict(text="Saline", x=fx(429), y=fy(58), font=dict(size=18, color=TXT)),
    dict(text="Atropine", x=fx(937), y=fy(58), font=dict(size=18, color=TXT)),
    dict(text="Detrended R-R Interval variability (s)", x=fx(130), y=fy(330), textangle=-90,
         font=dict(size=19.5, color=TXT)),
    dict(text="Detrended CO<sub>2</sub> (%)", x=fx(1236), y=fy(328), textangle=90,
         font=dict(size=19.5, color=GREY)),
    dict(text="Time after start of breath hold (s)", x=fx(683), y=fy(635), font=dict(size=19.5, color=TXT)),
    dict(text="<b>FIGURE 2 |</b> R-R intervals during apnea. The plots show the detrended R-R interval (black lines) and "
              "CO<sub>2</sub> signals (grey lines) for each subject. The signals are shown",
         x=fx(18), y=fy(688), xanchor="left", font=dict(size=17.5, color=BLACK)),
    dict(text="from 30 s before to 390 s after the start of apnea.",
         x=fx(18), y=fy(709), xanchor="left", font=dict(size=17.5, color=BLACK)),
]
for r in range(7):
    zero = row_zero0 + row_pitch * r
    annotations.append(dict(text=subjects[r], x=fx(803), y=fy(zero - 19), font=dict(size=17, color=BLACK)))

for a in annotations:
    a.setdefault("xref", "paper")
    a.setdefault("yref", "paper")
    a.setdefault("showarrow", False)
    a.setdefault("xanchor", "center")
    a.setdefault("yanchor", "middle")
layout["annotations"] = annotations

layout["shapes"] = [dict(type="rect", xref="paper", yref="paper", x0=fx(8.5), x1=fx(1346.5),
                         y0=-0.05, y1=fy(9.5), line=dict(color="#9a9a9a", width=1), layer="below")]

fig.update_layout(**layout)
fig.write_html("out.html")
